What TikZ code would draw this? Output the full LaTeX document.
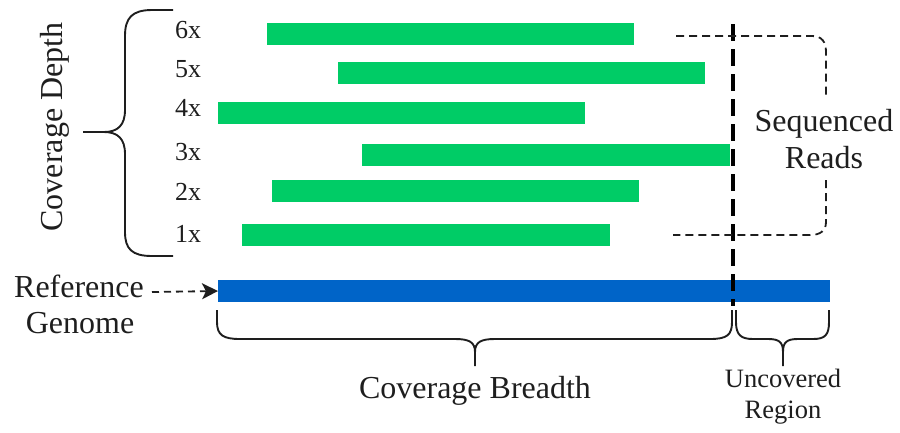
\documentclass[tikz,border=0pt]{standalone}
\usepackage{fontspec}
\setmainfont{Liberation Serif}
\usetikzlibrary{arrows.meta}
\definecolor{readgreen}{RGB}{0,204,102}
\definecolor{refblue}{RGB}{0,100,200}
\definecolor{ink}{RGB}{30,30,30}
\begin{document}
\begin{tikzpicture}[x=1pt,y=-1pt,
  greenbar/.style={fill=readgreen,draw=none,minimum height=22pt,inner sep=0pt,anchor=west},
  bluebar/.style={fill=refblue,draw=none,minimum height=22pt,inner sep=0pt,anchor=west},
  big/.style={font=\fontsize{32}{38}\selectfont,inner sep=0pt,text=ink},
  mid/.style={font=\fontsize{26.5}{30}\selectfont,inner sep=0pt,text=ink},
  num/.style={font=\fontsize{26}{30}\selectfont,inner sep=0pt,anchor=base west,text=ink},
  brace/.style={line width=1.9pt,ink},
  thindash/.style={line width=1.8pt,ink,dash pattern=on 8pt off 5pt},
  thickdash/.style={line width=4pt,dash pattern=on 17pt off 8pt}]
\useasboundingbox (0,0) rectangle (900,432);
% reads
\node[greenbar,minimum width=367pt] (r6) at (267,34) {};
\node[greenbar,minimum width=367pt] (r5) at (338,73) {};
\node[greenbar,minimum width=367pt] (r4) at (218,113) {};
\node[greenbar,minimum width=368pt] (r3) at (362,155) {};
\node[greenbar,minimum width=367pt] (r2) at (272,191) {};
\node[greenbar,minimum width=368pt] (r1) at (242,235) {};
\node[bluebar,minimum width=612pt] (gen) at (218,291) {};
% depth labels
\node[num] (n6) at (175,38) {6x};
\node[num] (n5) at (175,77) {5x};
\node[num] (n4) at (175,116) {4x};
\node[num] (n3) at (175,160) {3x};
\node[num] (n2) at (175,200) {2x};
\node[num] (n1) at (175,242) {1x};
% coverage depth brace
\draw[brace] (173,10) -- (152,10) .. controls (132,10) and (125,18) .. (125,36) -- (125,110)
  .. controls (125,125) and (118,132) .. (104,132) -- (83,132)
  (104,132) .. controls (118,132) and (125,139) .. (125,154) -- (125,232)
  .. controls (125,249) and (132,256) .. (152,256) -- (173,256);
\node[big,rotate=90,anchor=base] (cd) at (62,127) {Coverage Depth};
% reference genome
\node[big,anchor=base] (refa) at (79,297) {Reference};
\node[big,anchor=base] (refb) at (80,333) {Genome};
\coordinate (arrs) at (152,292);
\draw[ink,line width=1.8pt,dash pattern=on 7pt off 5pt,-{Stealth[length=16pt,width=16pt,inset=4pt]}] (arrs) -- (gen.west);
% vertical dashed boundary
\coordinate (vt) at (733,24);
\coordinate (vb) at (733,306);
\draw[thickdash] (vt) -- (vb);
% sequenced reads bracket
\draw[thindash] (676,36) -- (812,36) .. controls (822,36) and (826,42) .. (826,52) -- (826,96);
\draw[thindash] (826,180) -- (826,222) .. controls (826,231) and (820,235) .. (810,235) -- (673,235);
\node[big,anchor=base] (sq) at (824,131) {Sequenced};
\node[big,anchor=base] (rd) at (824,168) {Reads};
% coverage breadth brace
\draw[brace] (217,310) -- (217,322) .. controls (217,335) and (223,339) .. (240,339) -- (455,339)
  .. controls (469,339) and (475,342) .. (475,352) -- (475,366)
  (475,352) .. controls (475,342) and (481,339) .. (495,339) -- (710,339)
  .. controls (727,339) and (732,335) .. (732,322) -- (732,310);
\node[big,anchor=base] (cb) at (475,398) {Coverage Breadth};
% uncovered brace
\draw[brace] (736,310) -- (736,322) .. controls (736,335) and (741,339) .. (753,339) -- (768,339)
  .. controls (779,339) and (783,342) .. (783,352) -- (783,366)
  (783,352) .. controls (783,342) and (787,339) .. (798,339) -- (813,339)
  .. controls (825,339) and (829,335) .. (829,322) -- (829,310);
\node[mid,anchor=base] (uc) at (783,387) {Uncovered};
\node[mid,anchor=base] (rg) at (783,418) {Region};
\end{tikzpicture}
\end{document}
